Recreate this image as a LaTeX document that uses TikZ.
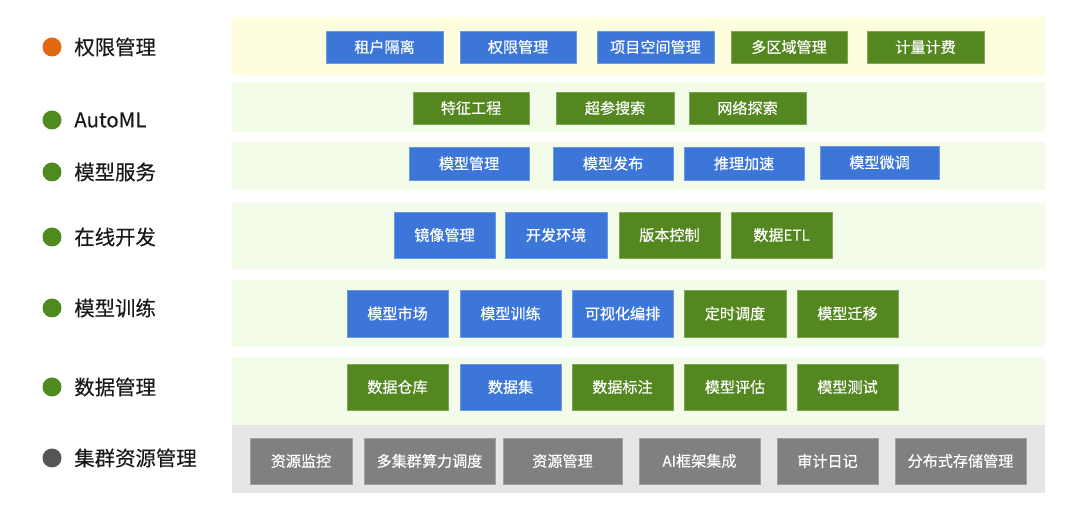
\documentclass[tikz,border=0pt]{standalone}
\usepackage{fontspec}
\setmainfont{Noto Sans CJK SC}
\newfontfamily\midfont[FakeBold=0.35]{Noto Sans CJK SC}
\usepackage{tikz}
\usepackage{xcolor}
\usetikzlibrary{positioning}

\definecolor{boxblue}{RGB}{60,118,217}
\definecolor{boxgreen}{RGB}{84,135,32}
\definecolor{boxgray}{RGB}{128,128,128}
\definecolor{bandyellow}{RGB}{254,254,222}
\definecolor{bandgreen}{RGB}{243,252,233}
\definecolor{bandgray}{RGB}{230,230,230}
\definecolor{dotorange}{RGB}{224,105,16}
\definecolor{dotgreen}{RGB}{79,138,31}
\definecolor{dotgray}{RGB}{85,85,85}

\begin{document}
\begin{tikzpicture}[x=1cm,y=1cm,
  every node/.style={font=\midfont\fontsize{8.6pt}{10pt}\selectfont},
  band/.style={minimum width=16.26cm,inner sep=0pt,draw=none},
  bluebox/.style={fill=boxblue,draw=boxblue!75!white,line width=0.5pt,text=white,minimum height=0.64cm,inner sep=0pt},
  greenbox/.style={fill=boxgreen,draw=boxgreen!75!white,line width=0.5pt,text=white,minimum height=0.64cm,inner sep=0pt},
  graybox/.style={fill=boxgray,draw=boxgray!75!white,line width=0.5pt,text=white,minimum height=0.92cm,inner sep=0pt},
  dot/.style={circle,minimum size=0.38cm,inner sep=0pt},
  layerlabel/.style={anchor=west,inner sep=0pt,text=black!90,font=\midfont\fontsize{11.6pt}{13pt}\selectfont}
]
  \useasboundingbox (0,0) rectangle (21.6,10.28);

  % Layer bands
  \node[band,fill=bandyellow,minimum height=1.16cm] (bandperm) at (12.77,9.36) {};
  \node[band,fill=bandgreen,minimum height=1.00cm] (bandauto) at (12.77,8.14) {};
  \node[band,fill=bandgreen,minimum height=0.96cm] (bandserve) at (12.77,6.96) {};
  \node[band,fill=bandgreen,minimum height=1.32cm] (banddev) at (12.77,5.56) {};
  \node[band,fill=bandgreen,minimum height=1.34cm] (bandtrain) at (12.77,4.01) {};
  \node[band,fill=bandgreen,minimum height=1.36cm] (banddata) at (12.77,2.46) {};
  \node[band,fill=bandgray,minimum height=1.36cm] (bandres) at (12.77,1.10) {};

  % Layer labels
  \node[dot,fill=dotorange] (dotperm) at (1.04,9.34) {};
  \node[layerlabel] (labperm) at (1.48,9.34) {权限管理};
  \node[dot,fill=dotgreen] (dotauto) at (1.04,7.88) {};
  \node[layerlabel] (labauto) at (1.48,7.88) {AutoML};
  \node[dot,fill=dotgreen] (dotserve) at (1.04,6.84) {};
  \node[layerlabel] (labserve) at (1.48,6.84) {模型服务};
  \node[dot,fill=dotgreen] (dotdev) at (1.04,5.54) {};
  \node[layerlabel] (labdev) at (1.48,5.54) {在线开发};
  \node[dot,fill=dotgreen] (dottrain) at (1.04,4.12) {};
  \node[layerlabel] (labtrain) at (1.48,4.12) {模型训练};
  \node[dot,fill=dotgreen] (dotdata) at (1.04,2.54) {};
  \node[layerlabel] (labdata) at (1.48,2.54) {数据管理};
  \node[dot,fill=dotgray] (dotres) at (1.04,1.12) {};
  \node[layerlabel] (labres) at (1.48,1.12) {集群资源管理};

  % Permission layer
  \node[bluebox,minimum width=2.34cm] (tenant) at (7.69,9.34) {租户隔离};
  \node[bluebox,minimum width=2.32cm] (acl) at (10.36,9.34) {权限管理};
  \node[bluebox,minimum width=2.34cm] (space) at (13.11,9.34) {项目空间管理};
  \node[greenbox,minimum width=2.32cm] (region) at (15.78,9.34) {多区域管理};
  \node[greenbox,minimum width=2.34cm] (billing) at (18.51,9.34) {计量计费};

  % AutoML layer
  \node[greenbox,minimum width=2.32cm] (feat) at (9.42,8.12) {特征工程};
  \node[greenbox,minimum width=2.36cm] (hpo) at (12.30,8.12) {超参搜索};
  \node[greenbox,minimum width=2.34cm] (nas) at (14.95,8.12) {网络探索};

  % Serving layer
  \node[bluebox,minimum width=2.40cm,minimum height=0.66cm] (mmgmt) at (9.38,7.01) {模型管理};
  \node[bluebox,minimum width=2.40cm,minimum height=0.66cm] (mpub) at (12.26,7.01) {模型发布};
  \node[bluebox,minimum width=2.40cm,minimum height=0.66cm] (infer) at (14.88,7.01) {推理加速};
  \node[bluebox,minimum width=2.38cm,minimum height=0.66cm] (tune) at (17.59,7.03) {模型微调};

  % Development layer
  \node[bluebox,minimum width=2.02cm,minimum height=0.92cm] (image) at (8.89,5.58) {镜像管理};
  \node[bluebox,minimum width=2.04cm,minimum height=0.92cm] (devenv) at (11.12,5.58) {开发环境};
  \node[greenbox,minimum width=2.02cm,minimum height=0.92cm] (vcs) at (13.39,5.58) {版本控制};
  \node[greenbox,minimum width=2.02cm,minimum height=0.92cm] (etl) at (15.63,5.58) {数据ETL};

  % Training layer
  \node[bluebox,minimum width=2.02cm,minimum height=0.94cm] (market) at (7.95,4.01) {模型市场};
  \node[bluebox,minimum width=2.02cm,minimum height=0.94cm] (train) at (10.21,4.01) {模型训练};
  \node[bluebox,minimum width=2.02cm,minimum height=0.94cm] (visual) at (12.45,4.01) {可视化编排};
  \node[greenbox,minimum width=2.04cm,minimum height=0.94cm] (sched) at (14.70,4.01) {定时调度};
  \node[greenbox,minimum width=2.02cm,minimum height=0.94cm] (migrate) at (16.95,4.01) {模型迁移};

  % Data layer
  \node[greenbox,minimum width=2.02cm,minimum height=0.92cm] (warehouse) at (7.95,2.54) {数据仓库};
  \node[bluebox,minimum width=2.02cm,minimum height=0.92cm] (dataset) at (10.21,2.54) {数据集};
  \node[greenbox,minimum width=2.02cm,minimum height=0.92cm] (annot) at (12.45,2.54) {数据标注};
  \node[greenbox,minimum width=2.04cm,minimum height=0.92cm] (evaluate) at (14.70,2.54) {模型评估};
  \node[greenbox,minimum width=2.02cm,minimum height=0.92cm] (mtest) at (16.95,2.54) {模型测试};

  % Cluster resource layer
  \node[graybox,minimum width=2.04cm] (monitor) at (6.02,1.06) {资源监控};
  \node[graybox,minimum width=2.62cm] (multisched) at (8.59,1.06) {多集群算力调度};
  \node[graybox,minimum width=2.38cm] (resmgmt) at (11.25,1.06) {资源管理};
  \node[graybox,minimum width=2.42cm] (aifw) at (13.99,1.06) {AI框架集成};
  \node[graybox,minimum width=2.02cm] (audit) at (16.55,1.06) {审计日记};
  \node[graybox,minimum width=2.62cm] (storage) at (19.21,1.06) {分布式存储管理};
\end{tikzpicture}
\end{document}
